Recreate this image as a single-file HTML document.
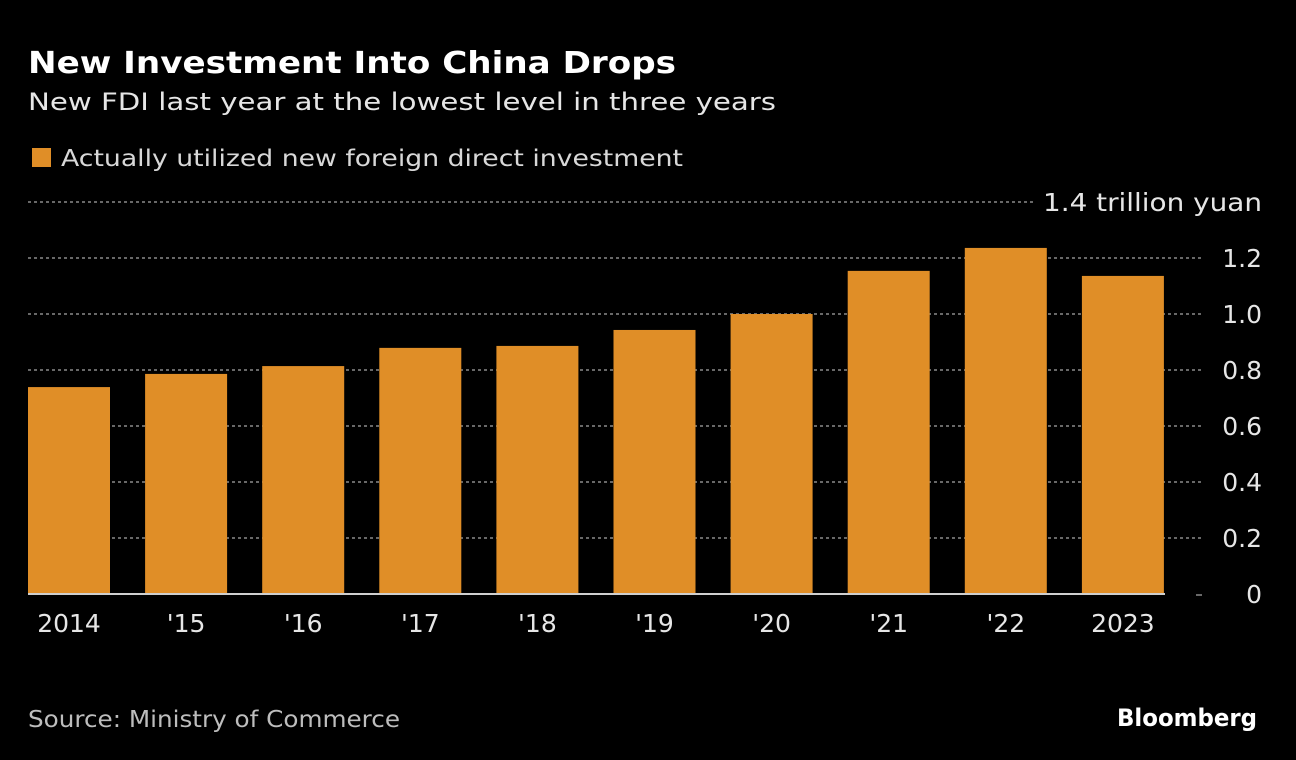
<!DOCTYPE html>
<html><head><meta charset="utf-8">
<style>
html,body{margin:0;padding:0;background:#000;width:1296px;height:760px;overflow:hidden;font-family:"DejaVu Sans","Liberation Sans",sans-serif;color:#e6e6e6}
svg text{font-family:"DejaVu Sans","Liberation Sans",sans-serif}
</style></head>
<body>
<svg width="1296" height="760">
<text x="28" y="73" font-size="30" font-weight="bold" fill="#fff" textLength="648" lengthAdjust="spacingAndGlyphs">New Investment Into China Drops</text>
<text x="28" y="110" font-size="24" fill="#e6e6e6" textLength="748" lengthAdjust="spacingAndGlyphs">New FDI last year at the lowest level in three years</text>
<rect x="32" y="148" width="19" height="19" fill="#e08e27"/>
<text x="61" y="166" font-size="23" fill="#d8d8d8" textLength="622" lengthAdjust="spacingAndGlyphs">Actually utilized new foreign direct investment</text>
<g id="grid"></g>
<g id="bars"></g>
<g id="xlabels"></g>
<text x="28" y="727" font-size="23" fill="#bdbdbd" textLength="372" lengthAdjust="spacingAndGlyphs">Source: Ministry of Commerce</text>
<text x="1257" y="726" font-size="24" font-weight="bold" fill="#fff" text-anchor="end" textLength="140" lengthAdjust="spacingAndGlyphs">Bloomberg</text>
</svg>
<script>
const categories=["2014","'15","'16","'17","'18","'19","'20","'21","'22","2023"];
const values=[0.739,0.786,0.814,0.879,0.886,0.943,1.0,1.154,1.236,1.136];
const ticks=[0,0.2,0.4,0.6,0.8,1.0,1.2,1.4];
const tickLabels=["0","0.2","0.4","0.6","0.8","1.0","1.2","1.4 trillion yuan"];
const NS="http://www.w3.org/2000/svg";
const y=v=>594-v*280;
const x=i=>28+i*117.1;
const bw=82;
function mk(tag,attrs,parent){const e=document.createElementNS(NS,tag);for(const k in attrs)e.setAttribute(k,attrs[k]);parent.appendChild(e);return e;}
const grid=document.getElementById('grid');
ticks.forEach((t,i)=>{
  const yy=y(t);
  const last=i===ticks.length-1;
  if(t>0){
    const l=mk('line',{x1:28,x2:last?1035:1202,y1:yy,y2:yy,stroke:'#8a8a8a','stroke-width':1.5,'stroke-dasharray':'3,3'},grid);
    
    
  }
  const attrs={x:1262,y:yy+9,'font-size':25,fill:'#e6e6e6','text-anchor':'end'};
  if(last){attrs.textLength=219;attrs.lengthAdjust='spacingAndGlyphs';}
  const tx=mk('text',attrs,grid);
  tx.textContent=tickLabels[i];
  
  
});
const bars=document.getElementById('bars');
values.forEach((v,i)=>{
  const r=mk('rect',{x:x(i),y:y(v),width:bw,height:594-y(v),fill:'#e08e27'},bars);
  
  
});
const base=mk('line',{x1:28,x2:1165,y1:594,y2:594,stroke:'#cfcfcf','stroke-width':2},bars);


const bt=mk('line',{x1:1196,x2:1202,y1:595,y2:595,stroke:'#8a8a8a','stroke-width':1.5},bars);


const xl=document.getElementById('xlabels');
categories.forEach((c,i)=>{
  const t=mk('text',{x:x(i)+bw/2,y:632,'font-size':25,fill:'#e6e6e6','text-anchor':'middle'},xl);
  t.textContent=c;
  
  
});
</script>
</body></html>
